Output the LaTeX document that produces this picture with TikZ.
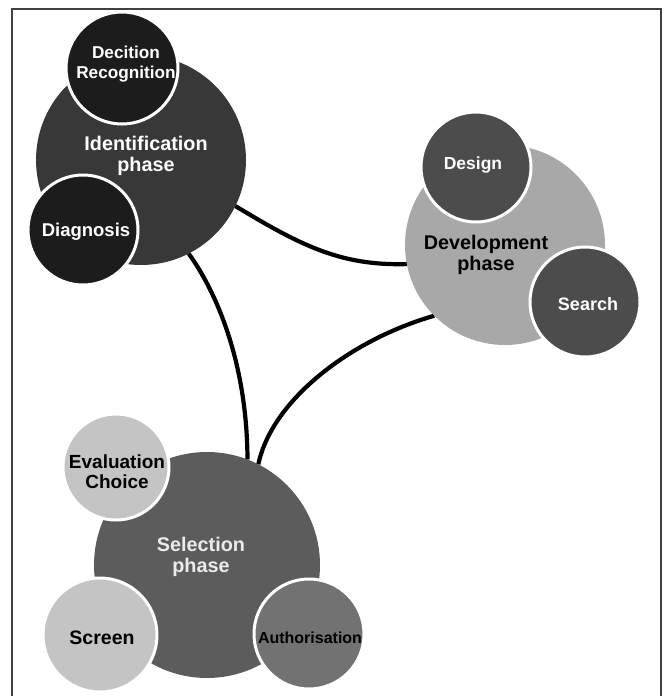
\documentclass[tikz,border=0pt]{standalone}
\usepackage{fontspec}
\setmainfont{Liberation Sans}
\usetikzlibrary{backgrounds}
\definecolor{identC}{HTML}{383838}
\definecolor{identS}{HTML}{1C1C1C}
\definecolor{devC}{HTML}{A8A8A8}
\definecolor{devS}{HTML}{4C4C4C}
\definecolor{selC}{HTML}{5C5C5C}
\definecolor{selS}{HTML}{C4C4C4}
\definecolor{authC}{HTML}{727272}
\begin{document}
\begin{tikzpicture}[x=1pt,y=-1pt,
  bigc/.style={circle, minimum size=#1, inner sep=0pt, outer sep=0pt},
  smallc/.style={circle, minimum size=#1, inner sep=0pt, outer sep=0pt, draw=white, line width=3pt},
  bigt/.style={align=center, inner sep=0pt, font=\bfseries\fontsize{19.8}{21.5}\selectfont},
  smallt/.style={align=center, inner sep=0pt, font=\bfseries\fontsize{#1}{20}\selectfont},
  link/.style={line width=4.2pt, black}]
\useasboundingbox (0,0) rectangle (666,696);
\draw[line width=1.3pt, black!75] (12,696) -- (12,9) -- (661,9) -- (661,696);

% Identification
\node[bigc=210, fill=identC] (ident) at (141,160) {};
\node[smallc=112, fill=identS] (decrec) at (122,68) {};
\node[smallc=110, fill=identS] (diag) at (83,230) {};
\node[bigt, text=white] (identT) at (146,156) {Identification\\phase};
\node[smallt=17.2, text=white] (decrecT) at (126,64) {Decition\\Recognition};
\node[smallt=18.5, text=white] (diagT) at (86,232) {Diagnosis};

% Development
\node[bigc=200, fill=devC] (dev) at (505,245) {};
\node[smallc=110, fill=devS] (design) at (476,167) {};
\node[smallc=110, fill=devS] (search) at (585,302) {};
\node[bigt, text=black] (devT) at (486,255) {Development\\phase};
\node[smallt=17.5, text=white] (designT) at (473,165) {Design};
\node[smallt=18, text=white] (searchT) at (588,304) {Search};

% Selection
\node[bigc=226, fill=selC] (sel) at (207,565) {};
\node[smallc=106, fill=selS] (evalc) at (116,467) {};
\node[smallc=114, fill=selS] (screen) at (100,635) {};
\node[smallc=110, fill=authC] (auth) at (309,634) {};
\node[bigt, text=white!92!black] (selT) at (201,557) {Selection\\phase};
\node[smallt=19, text=black] (evalT) at (117,472) {Evaluation\\Choice};
\node[smallt=19.5, text=black] (screenT) at (102,638) {Screen};
\node[smallt=16, text=black] (authT) at (310,638) {Authorisation};

\begin{scope}[on background layer]
\draw[link] (ident.-26) .. controls (300,245) and (340,266) .. (dev.191.5);
\draw[link] (ident.-63.7) .. controls (215,290) and (247,360) .. (sel.69.5);
\draw[link] (dev.225) .. controls (350,340) and (272,400) .. (sel.63.7);
\end{scope}
\end{tikzpicture}
\end{document}
